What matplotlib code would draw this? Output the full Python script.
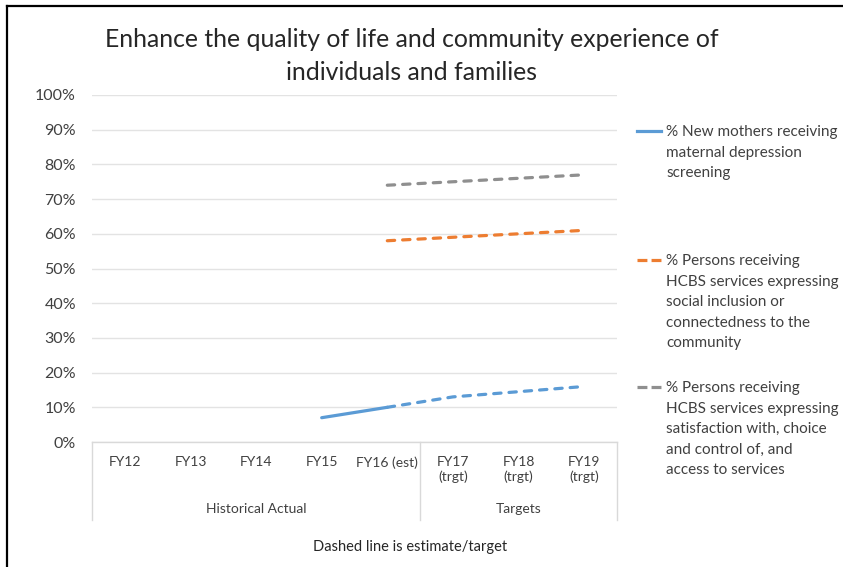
import numpy as np
import matplotlib.pyplot as plt
from matplotlib.lines import Line2D

plt.rcParams['font.family'] = ['Lato', 'DejaVu Sans']

years = ['FY12', 'FY13', 'FY14', 'FY15', 'FY16 (est)',
         'FY17\n(trgt)', 'FY18\n(trgt)', 'FY19\n(trgt)']
groups = ['Historical Actual', 'Targets']
group_sizes = [5, 3]

nan = np.nan
# actual (solid) and estimate/target (dashed) parts of each series
mothers_actual = [nan, nan, nan, 0.07, 0.10, nan, nan, nan]
mothers_target = [nan, nan, nan, nan, 0.10, 0.13, 0.145, 0.16]
inclusion_target = [nan, nan, nan, nan, 0.58, 0.59, 0.60, 0.61]
satisfaction_target = [nan, nan, nan, nan, 0.74, 0.75, 0.76, 0.77]

series_names = [
    '% New mothers receiving\nmaternal depression\nscreening',
    '% Persons receiving\nHCBS services expressing\nsocial inclusion or\nconnectedness to the\ncommunity',
    '% Persons receiving\nHCBS services expressing\nsatisfaction with, choice\nand control of, and\naccess to services',
]
colors = ['#5B9BD5', '#ED7D31', '#8F8F8F']

W, H = 843, 567
fig = plt.figure(figsize=(W / 100, H / 100), dpi=100)

# plot area in pixel coordinates
left, right, top, bottom = 92, 617, 95, 442
ax = fig.add_axes([left / W, 1 - bottom / H, (right - left) / W, (bottom - top) / H])

x = np.arange(len(years))
lw = 2.3
dash = (2.3, 2.5)
ax.plot(x, mothers_actual, color=colors[0], lw=lw, solid_capstyle='round')
ax.plot(x, mothers_target, color=colors[0], lw=lw, dashes=dash, dash_capstyle='round')
ax.plot(x, inclusion_target, color=colors[1], lw=lw, dashes=dash, dash_capstyle='round')
ax.plot(x, satisfaction_target, color=colors[2], lw=lw, dashes=dash, dash_capstyle='round')

ax.set_xlim(-0.5, len(years) - 0.5)
ax.set_ylim(0, 1)
ticks = np.arange(0, 1.01, 0.1)
ax.set_yticks(ticks)
ax.set_yticklabels([f'{int(round(v * 100))}%' for v in ticks],
                   fontsize=11.5, color='#404040')
ax.tick_params(axis='y', length=0, pad=11.5)
ax.set_xticks([])
ax.grid(axis='y', color='#e3e3e3', lw=1)
ax.set_axisbelow(True)
for s in ['top', 'right', 'left']:
    ax.spines[s].set_visible(False)
ax.spines['bottom'].set_color('#d9d9d9')
ax.spines['bottom'].set_linewidth(1)

# category labels and grouped axis below the plot
px = 1 / (bottom - top)
tr = ax.get_xaxis_transform()
for i, lab in enumerate(years):
    ax.text(i, -(456 - bottom) * px, lab, transform=tr, ha='center', va='top',
            fontsize=10, color='#404040', linespacing=1.2)

edges = np.concatenate([[0], np.cumsum(group_sizes)]) - 0.5
for e in edges:
    ax.plot([e, e], [0, -(520 - bottom) * px], transform=tr, color='#d9d9d9',
            lw=1, clip_on=False)
for g, a, b in zip(groups, edges[:-1], edges[1:]):
    ax.text((a + b) / 2, -(509 - bottom) * px, g, transform=tr, ha='center',
            va='center', fontsize=10, color='#404040')

fig.text(410 / W, 1 - 547 / H, 'Dashed line is estimate/target', ha='center',
         va='center', fontsize=10.5, color='#262626')

fig.text(412 / W, 1 - 56 / H,
         'Enhance the quality of life and community experience of\nindividuals and families',
         ha='center', va='center', fontsize=17.8, color='#262626', linespacing=1.5)

# legend on the right
entry_y = [131, 260, 387]
for name, c, y, ls in zip(series_names, colors, entry_y, ['-', '--', '--']):
    line_kw = dict(color=c, lw=2.3, transform=fig.transFigure)
    if ls == '--':
        line_kw.update(dashes=(3.1, 1.3), dash_capstyle='butt')
    fig.add_artist(Line2D([637 / W, 661 / W], [1 - y / H, 1 - y / H], **line_kw))
    fig.text(666 / W, 1 - (y - 6) / H, name, ha='left', va='top', fontsize=11,
             color='#404040', linespacing=1.6)

# outer frame (left and top edges)
fig.add_artist(Line2D([6.5 / W, 6.5 / W], [0, 1 - 5.5 / H], color='black', lw=1.6,
                      transform=fig.transFigure))
fig.add_artist(Line2D([6.5 / W, 1], [1 - 5.5 / H, 1 - 5.5 / H], color='black', lw=1.6,
                      transform=fig.transFigure))

fig.savefig('out.png', dpi=100)
